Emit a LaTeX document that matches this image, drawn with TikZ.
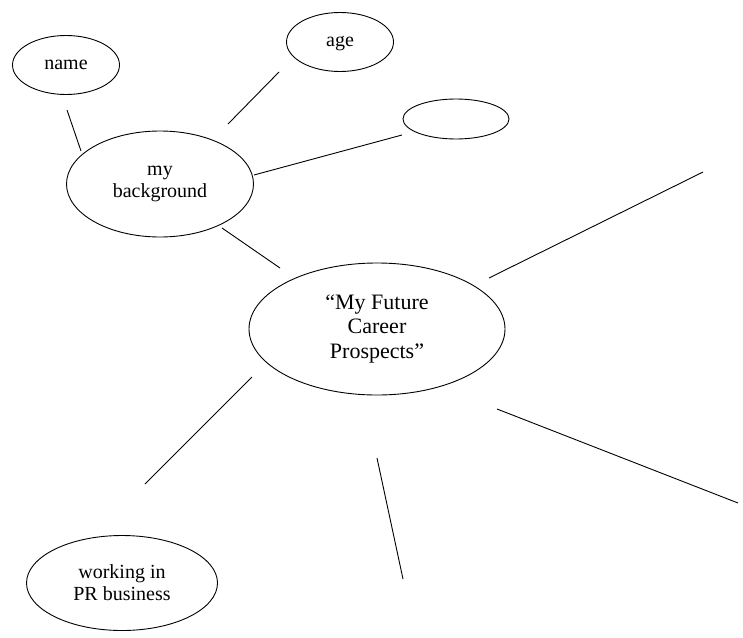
\documentclass[tikz,border=0pt]{standalone}
\usepackage{fontspec}
\setmainfont{Liberation Serif}
\usetikzlibrary{shapes.geometric}
\begin{document}
\begin{tikzpicture}[x=1pt,y=-1pt,
  bubble/.style={draw,ellipse,line width=0.9pt,inner sep=0pt,align=center,
    font=\fontsize{20}{22}\selectfont},
  bigbubble/.style={bubble,font=\fontsize{22}{24.5}\selectfont},
  oneline/.style={text height=14pt,text depth=5pt},
  link/.style={draw,line width=0.9pt}]
\useasboundingbox (0,0) rectangle (743,637);
\node[bubble,oneline,minimum width=107pt,minimum height=59pt] (name) at (66,65) {name};
\node[bubble,oneline,minimum width=107pt,minimum height=59pt] (age) at (340,42) {age};
\node[bubble,minimum width=106pt,minimum height=40pt] (blank) at (456,119) {};
\node[bubble,minimum width=187pt,minimum height=106pt] (bg) at (160,184) {my\\background};
\node[bigbubble,minimum width=256pt,minimum height=132pt] (future) at (377,329) {“My Future\\Career\\Prospects”};
\node[bubble,minimum width=191pt,minimum height=95pt] (pr) at (122,583) {working in\\PR business};
% connector end points
\coordinate (n1) at (67,110);   \coordinate (n2) at (81,151);
\coordinate (a1) at (279,72);   \coordinate (a2) at (228,124);
\coordinate (b1) at (254,175);  \coordinate (b2) at (402,135);
\coordinate (c1) at (222,228);  \coordinate (c2) at (280,268);
\coordinate (d1) at (489,278);  \coordinate (d2) at (703,172);
\coordinate (e1) at (497,409);  \coordinate (e2) at (738,503);
\coordinate (f1) at (377,458);  \coordinate (f2) at (403,579);
\coordinate (g1) at (252,377);  \coordinate (g2) at (145,484);
\draw[link] (n1) -- (n2);
\draw[link] (a1) -- (a2);
\draw[link] (b1) -- (b2);
\draw[link] (c1) -- (c2);
\draw[link] (d1) -- (d2);
\draw[link] (e1) -- (e2);
\draw[link] (f1) -- (f2);
\draw[link] (g1) -- (g2);
\end{tikzpicture}
\end{document}
